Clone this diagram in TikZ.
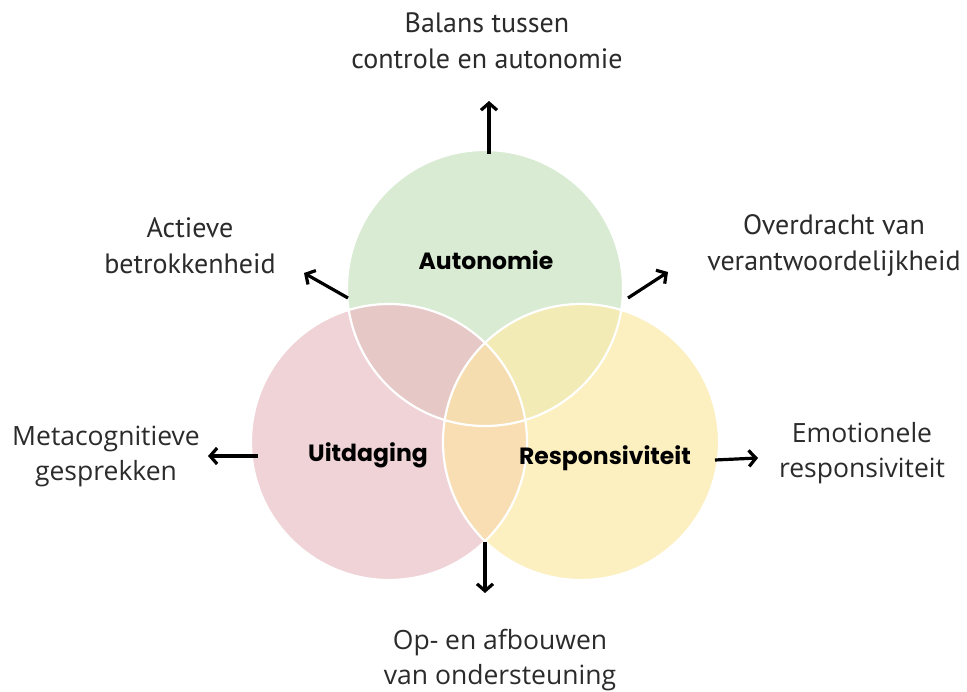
\documentclass[tikz,border=0pt]{standalone}
\usepackage{fontspec}
\setmainfont{Open Sans}
\newfontfamily\condfont{PT Sans}
\newfontfamily\labfont{Poppins}
\usetikzlibrary{arrows.meta}
\definecolor{cgreen}{HTML}{D9EBD3}
\definecolor{cred}{HTML}{EFD3D6}
\definecolor{cyel}{HTML}{FCEFC0}
\definecolor{crg}{HTML}{E6C9C6}
\definecolor{cgy}{HTML}{F3EBB5}
\definecolor{cry}{HTML}{F8DEB2}
\definecolor{call}{HTML}{F5DDB0}
\definecolor{ctext}{HTML}{2B2B2B}
\tikzset{
  outtext/.style={align=center, inner sep=0pt, text=ctext, font=\fontsize{26.5}{35}\selectfont},
  condtext/.style={align=center, inner sep=0pt, text=ctext, font=\condfont\fontsize{28}{36}\selectfont},
  settext/.style={inner sep=0pt, text=black, font=\labfont\bfseries\fontsize{23.5}{28}\selectfont},
  outarrow/.style={draw=black, line width=3.2pt, -{Straight Barb[length=7pt,width=16pt,line width=3.2pt]}},
  ring/.style={draw=white, line width=2.2pt}
}
\begin{document}
\begin{tikzpicture}[x=1pt,y=-1pt]
\useasboundingbox (0,0) rectangle (967,692);
\fill[white] (0,0) rectangle (967,692);
\coordinate (cg) at (485,288);
\coordinate (cr) at (389,442);
\coordinate (cy) at (581,442);
% base circles
\fill[cred] (cr) circle[radius=138];
\fill[cyel] (cy) circle[radius=138];
\fill[cgreen] (cg) circle[radius=138];
% pairwise overlaps
\begin{scope}
  \clip (cr) circle[radius=138];
  \fill[crg] (cg) circle[radius=138];
\end{scope}
\begin{scope}
  \clip (cy) circle[radius=138];
  \fill[cgy] (cg) circle[radius=138];
\end{scope}
\begin{scope}
  \clip (cr) circle[radius=138];
  \fill[cry] (cy) circle[radius=138];
\end{scope}
\begin{scope}
  \clip (cr) circle[radius=138];
  \clip (cy) circle[radius=138];
  \fill[call] (cg) circle[radius=138];
\end{scope}
% outlines
\draw[ring] (cr) circle[radius=138];
\draw[ring] (cy) circle[radius=138];
\draw[ring] (cg) circle[radius=138];
% set labels
\node[settext] (autonomie) at (486,260) {Autonomie};
\node[settext] (uitdaging) at (368,455) {Uitdaging};
\node[settext] (respons) at (605,458) {Responsiviteit};
% outer labels
\node[condtext] (balans) at (487,41) {Balans tussen\\controle en autonomie};
\node[condtext] (actieve) at (190,246) {Actieve\\betrokkenheid};
\node[condtext] (overdracht) at (834,246) {Overdracht van\\verantwoordelijkheid};
\node[outtext] (meta) at (106,456) {Metacognitieve\\gesprekken};
\node[outtext] (emo) at (862,453) {Emotionele\\responsiviteit};
\node[outtext] (opaf) at (500,660) {Op- en afbouwen\\van ondersteuning};
% arrows
\coordinate (t1) at (489,154); \coordinate (h1) at (489,101);
\coordinate (t2) at (348,298); \coordinate (h2) at (304,273);
\coordinate (t3) at (628,298); \coordinate (h3) at (668,272);
\coordinate (t4) at (258,456); \coordinate (h4) at (208,456);
\coordinate (t5) at (715,460); \coordinate (h5) at (758,458);
\coordinate (t6) at (485,542); \coordinate (h6) at (485,593);
\draw[outarrow] (t1) -- (h1);
\draw[outarrow] (t2) -- (h2);
\draw[outarrow] (t3) -- (h3);
\draw[outarrow] (t4) -- (h4);
\draw[outarrow] (t5) -- (h5);
\draw[outarrow] (t6) -- (h6);
\end{tikzpicture}
\end{document}
